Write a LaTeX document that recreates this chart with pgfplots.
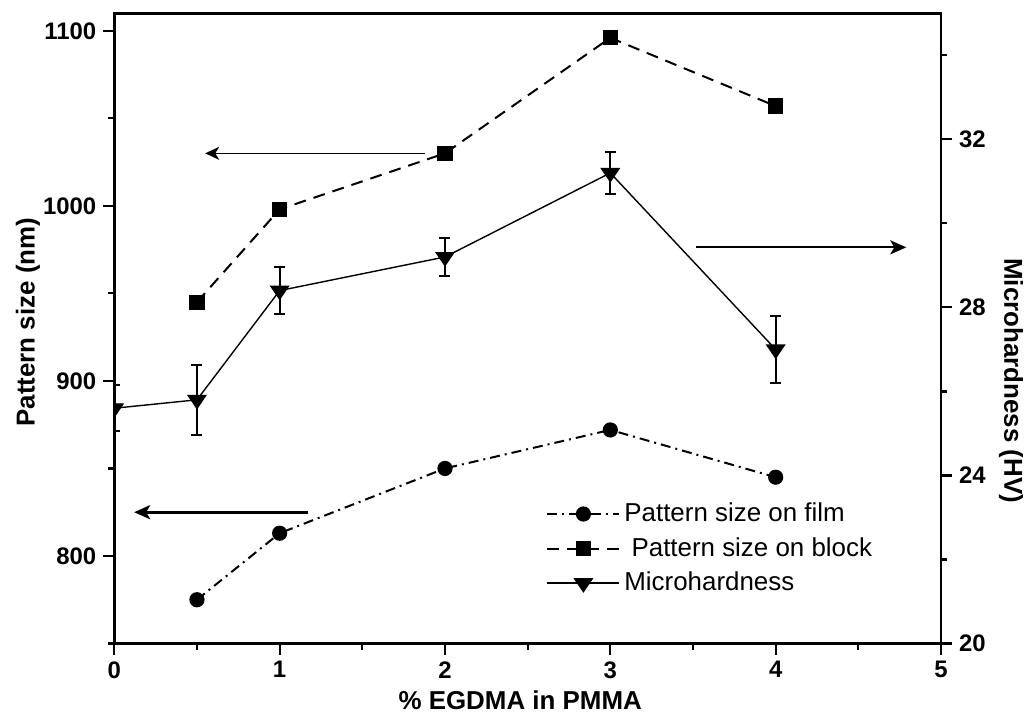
\documentclass[border=0pt]{standalone}
\usepackage{pgfplots}
\pgfplotsset{compat=1.18}
\usepackage{pgfplotstable}
\usepackage{fontspec}
\setmainfont{Liberation Sans}
\usetikzlibrary{arrows.meta}

% Pattern size on film (nm)
\pgfplotstableread{
x    y
0.5  775
1    813
2    850
3    872
4    845
}\filmdata

% Pattern size on block (nm)
\pgfplotstableread{
x    y
0.5  945
1    998
2    1030
3    1096
4    1057
}\blockdata

% Microhardness (HV) with error
\pgfplotstableread{
x    y     e
0    25.6  0.55
0.5  25.8  0.83
1    28.4  0.55
2    29.2  0.45
3    31.2  0.50
4    27.0  0.80
}\microdata

\tikzset{
  filmstyle/.style={black, line width=1bp, dash pattern=on 5bp off 2.5bp on 1bp off 2.5bp,
    mark=*, mark size=3.3bp, mark options={solid}},
  blockstyle/.style={black, line width=1bp, dash pattern=on 6bp off 4bp,
    mark=square*, mark size=3.3bp, mark options={solid}},
}

\begin{document}
\begin{tikzpicture}
\useasboundingbox (-57.15bp,-36.75bp) rectangle (456.35bp,321.75bp);
\pgfplotsset{
  every axis/.append style={
    scale only axis, width=413.35bp, height=315.1bp,
    xmin=0, xmax=5,
    axis line style={line width=1.3bp},
    every tick/.style={line width=1.1bp, black},
    major tick length=5.5bp, minor tick length=3bp,
    tick align=outside,
    /pgf/number format/assume math mode=true,
    /pgf/number format/1000 sep={},
    tick label style={font=\bfseries\fontsize{12}{14}\selectfont},
    legend image code/.code={\draw[mark repeat=2,mark phase=2] plot coordinates {(0bp,0bp)(18bp,0bp)(36bp,0bp)};},
  }
}
\begin{axis}[
  ymin=750, ymax=1110,
  xtick={0,1,2,3,4,5}, minor xtick={0.5,1.5,2.5,3.5,4.5},
  ytick={800,900,1000,1100}, minor ytick={750,850,950,1050},
  xtick pos=left, ytick pos=left,
  xlabel={\% EGDMA in PMMA}, ylabel={Pattern size (nm)},
  every axis x label/.style={at={(axis description cs:0.491,-0.0897)}, anchor=center,
    font=\bfseries\fontsize{13}{15}\selectfont},
  every axis y label/.style={at={(axis description cs:-0.1044,0.51)}, anchor=center, rotate=90,
    font=\bfseries\fontsize{13}{15}\selectfont},
  clip marker paths=true,
]
\addplot[filmstyle] table[x=x, y=y] {\filmdata};
\addplot[blockstyle] table[x=x, y=y] {\blockdata};
% arrows pointing to the axis each series belongs to
\draw[black, line width=0.7bp, -{Stealth[length=7bp, width=6.5bp, inset=2bp]}]
  (axis cs:1.88,1030) -- (axis cs:0.55,1030);
\draw[black, line width=1.5bp, -{Stealth[length=8bp, width=7bp, inset=2bp]}]
  (axis cs:1.17,825) -- (axis cs:0.12,825);
\draw[black, line width=1bp, -{Stealth[length=8bp, width=7bp, inset=2bp]}]
  (axis cs:3.52,976.3) -- (axis cs:4.79,976.3);
\end{axis}

\begin{axis}[
  ymin=20, ymax=35,
  axis x line=none, axis y line*=right,
  ytick={20,24,28,32}, minor ytick={22,26,30,34},
  ylabel={Microhardness (HV)},
  every axis y label/.style={at={(axis description cs:1.0847,0.417)}, anchor=center, rotate=-90,
    font=\bfseries\fontsize{13}{15}\selectfont},
  clip marker paths=true,
  legend style={draw=none, fill=none, at={(rel axis cs:0.515,0.236)}, anchor=north west,
    font=\fontsize{13}{15}\selectfont, row sep=2.4bp},
  legend cell align=left,
]
\addlegendimage{filmstyle}
\addlegendentry{Pattern size on film}
\addlegendimage{blockstyle}
\addlegendentry{\ Pattern size on block}
\addplot[black, line width=0.7bp, mark=triangle*, mark size=5bp,
  mark options={solid, rotate=180, yscale=0.85},
  error bars/.cd, y dir=both, y explicit,
  error bar style={line width=1bp, solid},
  error mark options={rotate=90, mark size=2.75bp, line width=1bp}]
  table[x=x, y=y, y error=e] {\microdata};
\addlegendentry{Microhardness}
\end{axis}
\end{tikzpicture}
\end{document}
